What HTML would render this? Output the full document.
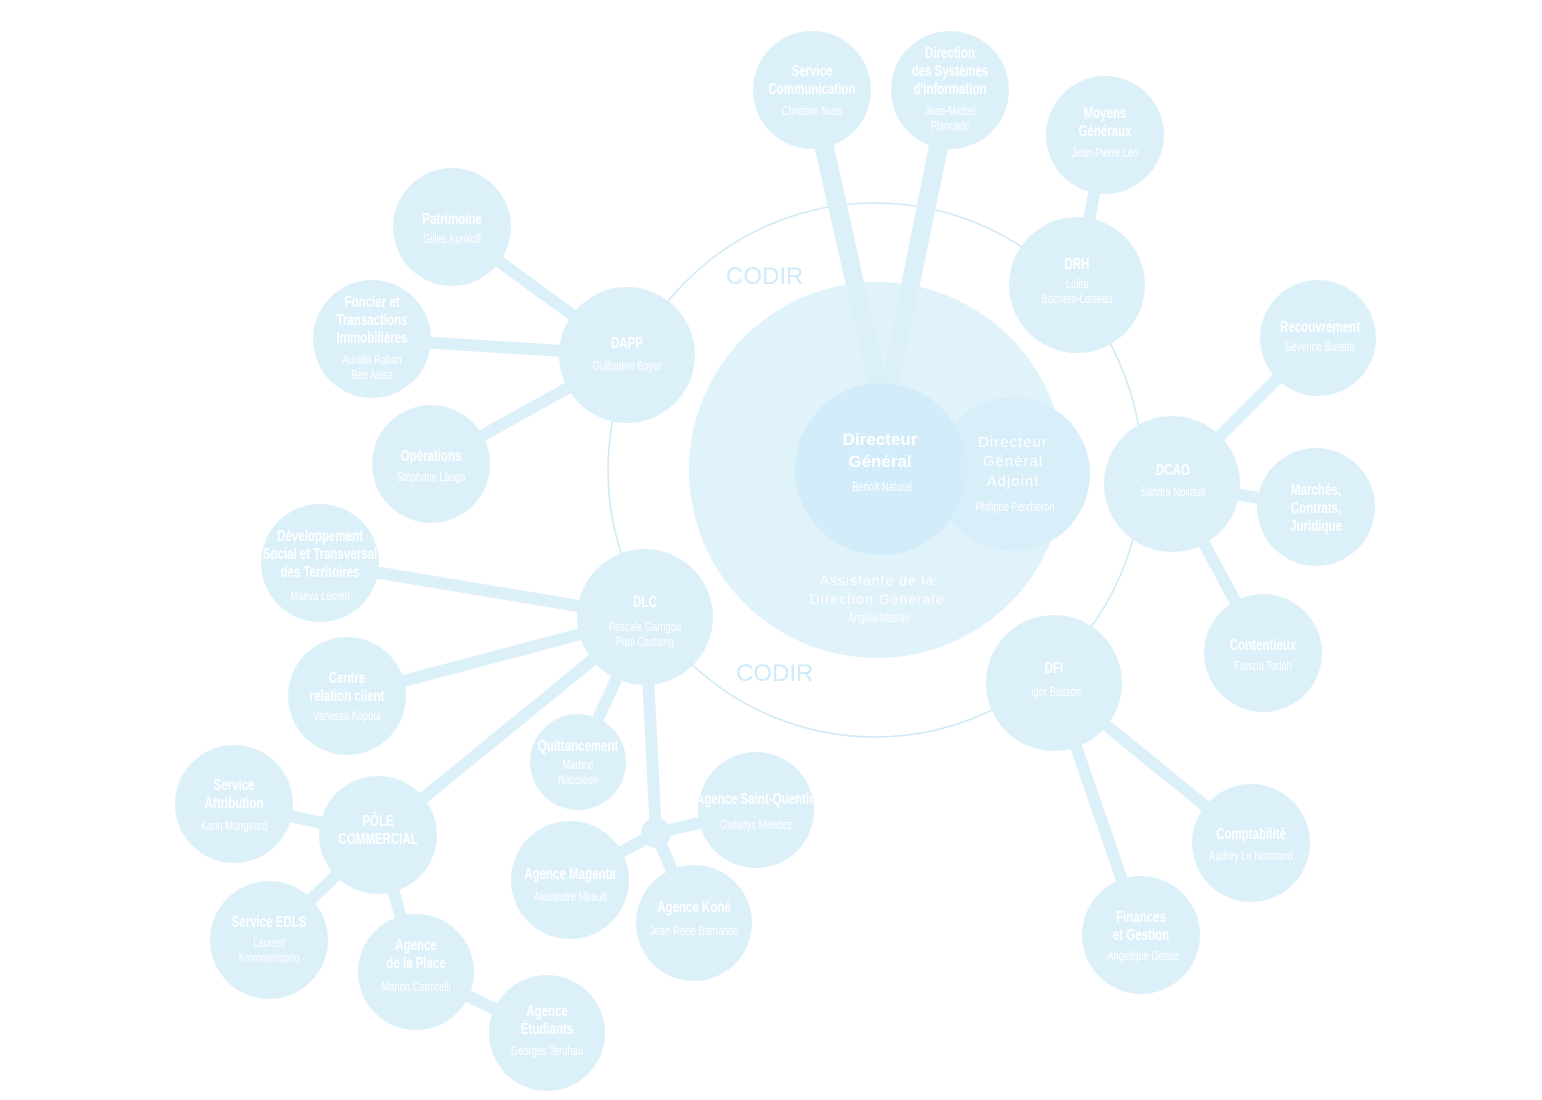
<!DOCTYPE html>
<html><head><meta charset="utf-8"><style>
html,body{margin:0;padding:0;background:#fff;width:1542px;height:1100px;overflow:hidden}
svg{display:block}
.t,.n{font-family:"Liberation Sans",sans-serif;fill:#fff;text-anchor:middle;transform-box:fill-box;transform-origin:center;transform:scaleX(0.72)}
.t{font-weight:bold;font-size:16px}
.n{font-size:13px}
.w{font-family:"Liberation Sans","DejaVu Sans",sans-serif;fill:#fff;text-anchor:middle;font-size:15px;letter-spacing:1px}
.c{font-family:"Liberation Sans",sans-serif;fill:#cdebf8;font-size:24px}
</style></head><body>
<svg width="1542" height="1100" viewBox="0 0 1542 1100">
<circle cx="875" cy="470" r="267" fill="none" stroke="#cfe9f6" stroke-width="1.5"/>
<text class="c" x="726" y="284">CODIR</text>
<text class="c" x="736" y="681">CODIR</text>
<g stroke="#dcf0fa" stroke-width="12" stroke-linecap="round">
<line x1="627" y1="355" x2="452" y2="227"/>
<line x1="627" y1="355" x2="372" y2="339"/>
<line x1="627" y1="355" x2="431" y2="464"/>
<line x1="1077" y1="285" x2="1105" y2="135"/>
<line x1="1172" y1="484" x2="1318" y2="338"/>
<line x1="1172" y1="484" x2="1316" y2="507"/>
<line x1="1172" y1="484" x2="1263" y2="653"/>
<line x1="1054" y1="683" x2="1251" y2="843"/>
<line x1="1054" y1="683" x2="1141" y2="935"/>
<line x1="645" y1="617" x2="320" y2="563"/>
<line x1="645" y1="617" x2="347" y2="696"/>
<line x1="645" y1="617" x2="578" y2="762"/>
<line x1="645" y1="617" x2="378" y2="835"/>
<line x1="645" y1="617" x2="656" y2="833"/>
<line x1="656" y1="833" x2="756" y2="810"/>
<line x1="656" y1="833" x2="570" y2="880"/>
<line x1="656" y1="833" x2="694" y2="923"/>
<line x1="378" y1="835" x2="234" y2="804"/>
<line x1="378" y1="835" x2="269" y2="940"/>
<line x1="378" y1="835" x2="416" y2="972"/>
<line x1="416" y1="972" x2="547" y2="1033"/>
</g>
<circle cx="877" cy="470" r="188" fill="#e0f2fa"/>
<polygon points="806,110 826,110 890,400 872,400" fill="#dcf0fa"/>
<polygon points="936,110 956,110 896,400 878,400" fill="#dcf0fa"/>
<circle cx="1013" cy="474" r="77" fill="#d8eef9"/>
<circle cx="881" cy="469" r="86" fill="#d2ecf9"/>
<text class="w" x="1013" y="447">Directeur</text>
<text class="w" x="1013" y="466">Général</text>
<text class="w" x="1013" y="486">Adjoint</text>
<text class="n" x="1015" y="511">Philippe Percheron</text>
<text class="t" x="880" y="445" style="transform:none;font-size:17px">Directeur</text>
<text class="t" x="880" y="467" style="transform:none;font-size:17px">Général</text>
<text class="n" x="882" y="491">Benoît Naturel</text>
<text class="w" x="877" y="585" style="font-size:14px">Assistante de la</text>
<text class="w" x="877" y="604" style="font-size:14px">Direction Générale</text>
<text class="n" x="879" y="622">Angéla Maslan</text>
<g fill="#dcf0fa">
<circle cx="812" cy="90" r="59"/><circle cx="950" cy="90" r="59"/>
<circle cx="1105" cy="135" r="59"/><circle cx="1077" cy="285" r="68"/>
<circle cx="452" cy="227" r="59"/><circle cx="372" cy="339" r="59"/>
<circle cx="627" cy="355" r="68"/><circle cx="431" cy="464" r="59"/>
<circle cx="1318" cy="338" r="58"/><circle cx="1172" cy="484" r="68"/>
<circle cx="1316" cy="507" r="59"/><circle cx="1263" cy="653" r="59"/>
<circle cx="1054" cy="683" r="68"/><circle cx="1251" cy="843" r="59"/>
<circle cx="1141" cy="935" r="59"/><circle cx="320" cy="563" r="59"/>
<circle cx="645" cy="617" r="68"/><circle cx="347" cy="696" r="59"/>
<circle cx="578" cy="762" r="48"/><circle cx="756" cy="810" r="58"/>
<circle cx="656" cy="833" r="15"/><circle cx="570" cy="880" r="59"/>
<circle cx="694" cy="923" r="58"/><circle cx="234" cy="804" r="59"/>
<circle cx="378" cy="835" r="59"/><circle cx="269" cy="940" r="59"/>
<circle cx="416" cy="972" r="58"/><circle cx="547" cy="1033" r="58"/>
</g>
<text class="t" x="812" y="76">Service</text><text class="t" x="812" y="94">Communication</text><text class="n" x="812" y="115">Christine Nuss</text>
<text class="t" x="950" y="58">Direction</text><text class="t" x="950" y="76">des Systèmes</text><text class="t" x="950" y="94">d'information</text><text class="n" x="950" y="115">Jean-Michel</text><text class="n" x="950" y="130">Plancade</text>
<text class="t" x="1105" y="118">Moyens</text><text class="t" x="1105" y="136">Généraux</text><text class="n" x="1105" y="157">Jean-Pierre Léo</text>
<text class="t" x="1077" y="269">DRH</text><text class="n" x="1077" y="288">Lolita</text><text class="n" x="1077" y="303">Bachero-Loiseau</text>
<text class="t" x="452" y="224">Patrimoine</text><text class="n" x="452" y="243">Gilles Koroloff</text>
<text class="t" x="372" y="307">Foncier et</text><text class="t" x="372" y="325">Transactions</text><text class="t" x="372" y="343">Immobilières</text><text class="n" x="372" y="364">Aurélia Rabah</text><text class="n" x="372" y="379">Ben Aissa</text>
<text class="t" x="627" y="348">DAPP</text><text class="n" x="627" y="370">Guillaume Boyer</text>
<text class="t" x="431" y="461">Opérations</text><text class="n" x="431" y="481">Stéphane Lauga</text>
<text class="t" x="1320" y="332">Recouvrement</text><text class="n" x="1320" y="351">Séverine Burette</text>
<text class="t" x="1173" y="475">DCAO</text><text class="n" x="1173" y="496">Sandra Noirault</text>
<text class="t" x="1316" y="495">Marchés,</text><text class="t" x="1316" y="513">Contrats,</text><text class="t" x="1316" y="531">Juridique</text>
<text class="t" x="1263" y="650">Contentieux</text><text class="n" x="1263" y="670">Fawzia Toriah</text>
<text class="t" x="1054" y="673">DFI</text><text class="n" x="1056" y="696">Igor Busson</text>
<text class="t" x="1251" y="839">Comptabilité</text><text class="n" x="1251" y="860">Audrey Le Normand</text>
<text class="t" x="1141" y="922">Finances</text><text class="t" x="1141" y="940">et Gestion</text><text class="n" x="1143" y="960">Angélique Gense</text>
<text class="t" x="320" y="541">Développement</text><text class="t" x="320" y="559">Social et Transversal</text><text class="t" x="320" y="577">des Territoires</text><text class="n" x="320" y="600">Maëva Lecren</text>
<text class="t" x="645" y="607">DLC</text><text class="n" x="645" y="631">Pascale Garrigou</text><text class="n" x="645" y="646">Paul Castaing</text>
<text class="t" x="347" y="683">Centre</text><text class="t" x="347" y="701">relation client</text><text class="n" x="347" y="720">Vanessa Kopoui</text>
<text class="t" x="578" y="751">Quittancement</text><text class="n" x="578" y="769">Martine</text><text class="n" x="578" y="784">Napoléon</text>
<text class="t" x="756" y="804">Agence Saint-Quentin</text><text class="n" x="756" y="829">Gwladys Mendez</text>
<text class="t" x="570" y="879">Agence Magenta</text><text class="n" x="570" y="901">Alexandre Mirault</text>
<text class="t" x="694" y="912">Agence Koné</text><text class="n" x="694" y="935">Jean-René Barnanos</text>
<text class="t" x="234" y="790">Service</text><text class="t" x="234" y="808">Attribution</text><text class="n" x="234" y="830">Karin Mongeard</text>
<text class="t" x="378" y="826">PÔLE</text><text class="t" x="378" y="844">COMMERCIAL</text>
<text class="t" x="269" y="927">Service EDLS</text><text class="n" x="269" y="947">Laurent</text><text class="n" x="269" y="962">Kromosentono</text>
<text class="t" x="416" y="950">Agence</text><text class="t" x="416" y="968">de la Place</text><text class="n" x="416" y="991">Manon Camicelli</text>
<text class="t" x="547" y="1016">Agence</text><text class="t" x="547" y="1034">Étudiants</text><text class="n" x="547" y="1055">Georges Teruhau</text>
</svg>
</body></html>
